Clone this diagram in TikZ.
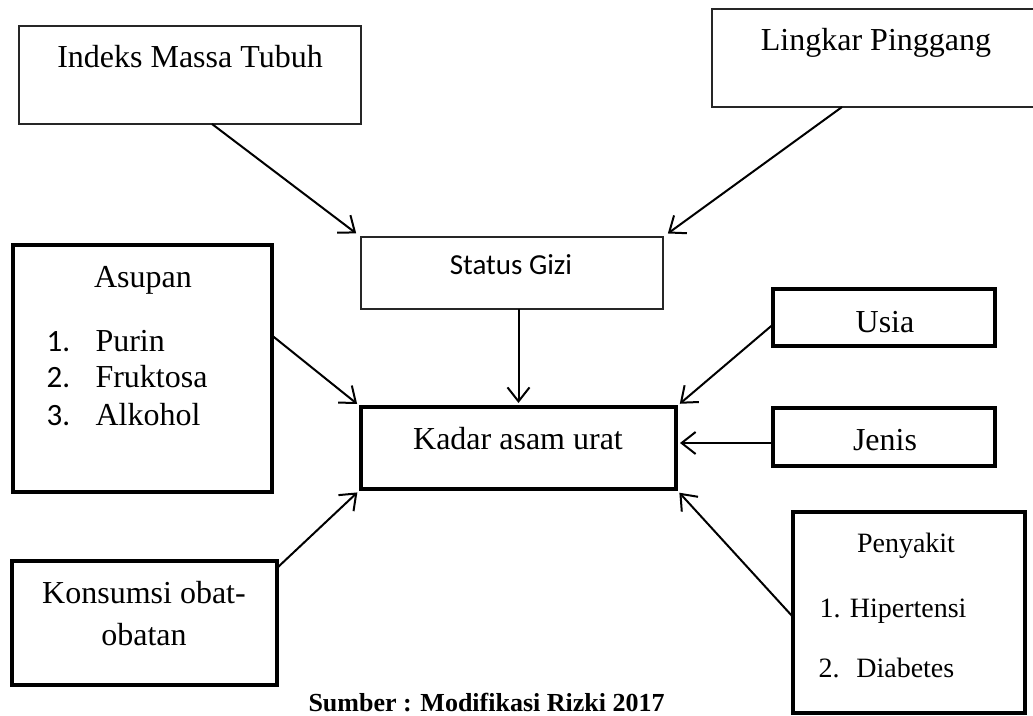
\documentclass[tikz,border=0pt]{standalone}
\usepackage{fontspec}
\setmainfont{Liberation Serif}
\newfontfamily\calfont{Carlito}
\usepackage{tikz}
\usetikzlibrary{
  positioning,
  arrows, arrows.meta,
  calc
}
\tikzset{
  box/.style={
    draw=black!85,
    line width=1.3pt,
    rectangle,
    inner sep=0pt,
    outer sep=0pt,
  },
  heavybox/.style={
    box,
    draw=black,
    line width=4.2pt,
  },
  edge/.style={
    ->,
    >={Straight Barb[length=14pt,width=22pt]},
    line width=2pt,
  },
  infl/.style={
    edge,
    shorten >=5pt,
  },
}

\begin{document}
\begin{tikzpicture}[x=1pt,y=-1pt]
		\clip (0,0) rectangle (1033,715);

		\tikzset{
			txt/.style={anchor=base, font=\fontsize{32}{38}\selectfont},
			smalltxt/.style={anchor=base, font=\fontsize{28}{34}\selectfont},
			item/.style={txt, anchor=base west},
			nr/.style={anchor=base west, font=\calfont\fontsize{31}{36}\selectfont}
		}

		% boxes
		\node[box, minimum width=342pt, minimum height=98pt] (imt) at (190,75) {};
		\node[box, minimum width=322pt, minimum height=98pt] (lp) at (873,58) {};
		\node[box, minimum width=302pt, minimum height=72pt] (gizi) at (512,273) {};
		\node[heavybox, minimum width=315pt, minimum height=82pt] (kadar) at (518.5,448) {};
		\node[heavybox, minimum width=259pt, minimum height=247pt] (asupan) at (142.5,368.5) {};
		\node[heavybox, minimum width=222pt, minimum height=57pt] (usia) at (884,317.5) {};
		\node[heavybox, minimum width=222pt, minimum height=58pt] (jenis) at (884,437) {};
		\node[heavybox, minimum width=265pt, minimum height=124pt] (konsumsi) at (144.5,623) {};
		\node[heavybox, minimum width=232pt, minimum height=201pt] (penyakit) at (909,612.5) {};

		% texts
		\node[txt] (imt_t) at (190,67) {Indeks Massa Tubuh};
		\node[txt] (lp_t) at (876,50) {Lingkar Pinggang};
		\node[anchor=base, font=\calfont\fontsize{29}{34}\selectfont] (gizi_t) at (511,274) {Status Gizi};
		\node[txt] (kadar_t) at (518,449) {Kadar asam urat};
		\node[txt] (asupan_t) at (143,287) {Asupan};
		\node[nr] (n1) at (43,351) {1.};
		\node[item] (purin) at (92,351) {Purin};
		\node[nr] (n2) at (43,387) {2.};
		\node[item] (fruktosa) at (92,387) {Fruktosa};
		\node[nr] (n3) at (43,425) {3.};
		\node[item] (alkohol) at (92,425) {Alkohol};
		\node[txt] (usia_t) at (885,332) {Usia};
		\node[txt] (jenis_t) at (885,450) {Jenis};
		\node[txt] (kons_a) at (144,603) {Konsumsi obat-};
		\node[txt] (kons_b) at (144,645) {obatan};
		\node[smalltxt] (peny_t) at (906,552) {Penyakit};
		\node[smalltxt, anchor=base west] (hiper) at (816,617) {1. Hipertensi};
		\node[smalltxt, anchor=base west] (diab) at (815,677) {2.\hspace{0.6em}Diabetes};
		\node[anchor=base west, font=\bfseries\fontsize{26}{31}\selectfont] (sumber) at (305,711) {Sumber : Modifikasi Rizki 2017};

		% edges
		\coordinate (jenisout) at ([yshift=-6pt]jenis.west);
		\draw[infl, shorten >=6pt] ([xshift=22pt]imt.south) -- (gizi.north west);
		\draw[infl, shorten >=6pt] ([xshift=-31pt]lp.south) -- (gizi.north east);
		\draw[infl, shorten >=4pt] (kadar.north |- gizi.south) -- (kadar.north);
		\draw[infl] ([yshift=33pt]asupan.east) -- (kadar.north west);
		\draw[infl] ([yshift=-7pt]usia.west) -- (kadar.north east);
		\draw[infl, shorten >=4pt] (jenisout) -- (kadar.east |- jenisout);
		\draw[infl] ([yshift=-7pt]konsumsi.north east) -- (kadar.south west);
		\draw[infl] ([yshift=-4.5pt]penyakit.west) -- (kadar.south east);

	\end{tikzpicture}
\end{document}
